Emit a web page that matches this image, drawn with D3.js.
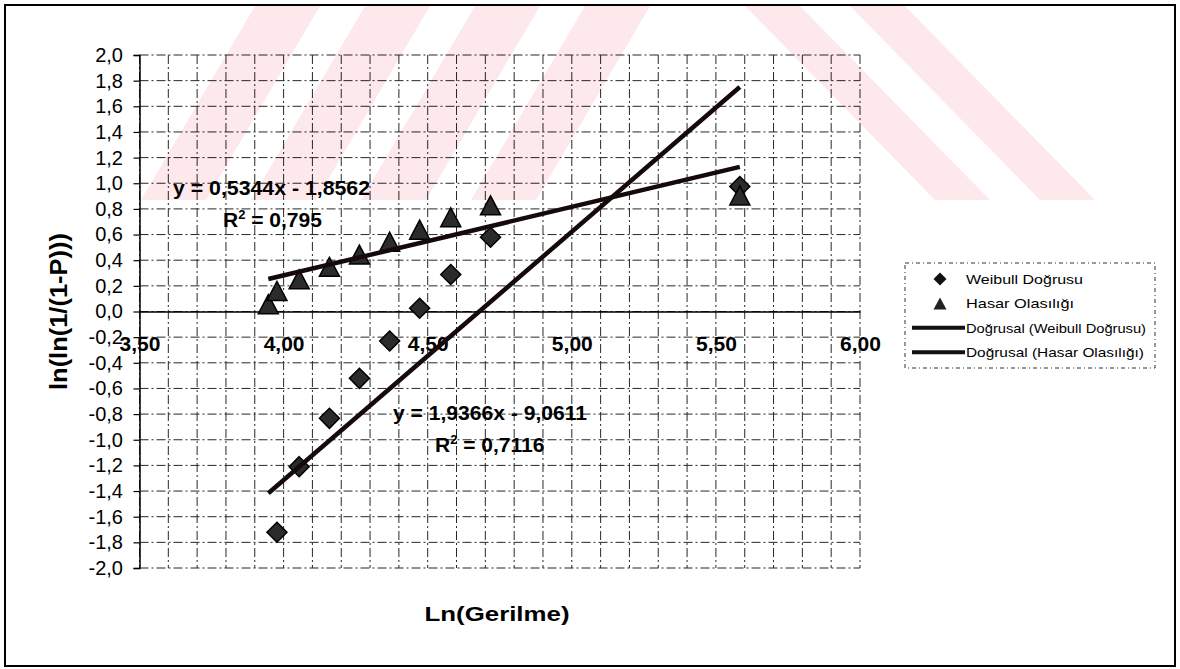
<!DOCTYPE html>
<html><head><meta charset="utf-8">
<script src="https://cdn.jsdelivr.net/npm/d3@7"></script>
<style>
body{margin:0;background:#fff}
svg{display:block}
text{font-family:"Liberation Sans",Arial,Helvetica,sans-serif;fill:#000}
</style>
</head><body>
<svg id="chart" width="1180" height="669"></svg>
<script>
// ---- data ----
const lnStress  = [3.947, 3.977, 4.054, 4.159, 4.263, 4.368, 4.472, 4.580, 4.718, 5.583];
const weibull   = [null, -1.721, -1.210, -0.833, -0.521, -0.230, 0.025, 0.289, 0.579, 0.975]; // first point lies below the axis minimum
const hasar     = [0.057, 0.160, 0.251, 0.349, 0.444, 0.544, 0.638, 0.735, 0.828, 0.905];
const seriesNames = ["Weibull Doğrusu", "Hasar Olasılığı"];
const trendNames  = ["Doğrusal (Weibull Doğrusu)", "Doğrusal (Hasar Olasılığı)"];
const trendSlopes     = [1.9366, 0.5344];
const trendIntercepts = [-9.0611, -1.8562];
const trendEquations  = ["y = 1,9366x - 9,0611", "y = 0,5344x - 1,8562"];
const trendR2         = ["0,7116", "0,795"];
const xTicks = [3.5, 4.0, 4.5, 5.0, 5.5, 6.0];
const yTicks = [-2.0,-1.8,-1.6,-1.4,-1.2,-1.0,-0.8,-0.6,-0.4,-0.2,0.0,0.2,0.4,0.6,0.8,1.0,1.2,1.4,1.6,1.8,2.0];
const xGrid  = [3.5,3.6,3.7,3.8,3.9,4.0,4.1,4.2,4.3,4.4,4.5,4.6,4.7,4.8,4.9,5.0,5.1,5.2,5.3,5.4,5.5,5.6,5.7,5.8,5.9,6.0];
const xTitle = "Ln(Gerilme)";
const yTitle = "ln(ln(1/(1-P)))";

const svg = d3.select("#chart");
const loc = d3.formatLocale({decimal: ",", thousands: ".", grouping: [3], currency: ["", ""], minus: "-"});
const fx = loc.format(".2f"), fy = loc.format(".1f");

// ---- faint watermark (decorative) ----
const wm = svg.append("g");
const pink = "#fde8ec";
const leftBands = [[255, 320], [365, 430], [475, 540], [585, 650]];
const rightBands = [[745, 800], [850, 905]];
leftBands.forEach(([a, b]) => wm.append("polygon").attr("fill", pink)
  .attr("points", `${a},6 ${b},6 ${b-114},200 ${a-114},200`));
rightBands.forEach(([a, b]) => wm.append("polygon").attr("fill", pink)
  .attr("points", `${a},6 ${b},6 ${b+190},200 ${a+190},200`));

// ---- outer frame ----
svg.append("rect").attr("x", 5).attr("y", 5).attr("width", 1170).attr("height", 661)
  .attr("fill", "none").attr("stroke", "#000").attr("stroke-width", 2);

// ---- scales ----
const x = d3.scaleLinear().domain([3.5, 6.0]).range([139.5, 860]);
const y = d3.scaleLinear().domain([-2, 2]).range([568, 55]);

// ---- grid ----
const grid = svg.append("g").attr("stroke", "#111").attr("stroke-width", 1)
  .attr("stroke-dasharray", "9,3,2,3").attr("opacity", 0.9);
grid.selectAll("line.v").data(xGrid).join("line").attr("class", "v")
  .attr("x1", d => x(d)).attr("x2", d => x(d)).attr("y1", y(2)).attr("y2", y(-2));
grid.selectAll("line.h").data(yTicks).join("line").attr("class", "h")
  .attr("x1", x(3.5)).attr("x2", x(6.0)).attr("y1", d => y(d)).attr("y2", d => y(d));

// ---- y axis ----
const yAxis = svg.append("g").attr("transform", `translate(${x(3.5)},0)`)
  .call(d3.axisLeft(y).tickValues(yTicks).tickFormat(fy).tickSize(6).tickPadding(10.5));
yAxis.select(".domain").attr("stroke", "#000").attr("stroke-width", 1.5);
yAxis.selectAll(".tick line").attr("stroke", "#000").attr("stroke-width", 1.2);
yAxis.selectAll("text").attr("font-size", 20).attr("font-family", "Liberation Sans, Arial, sans-serif").attr("fill", "#000");

// ---- x axis at y = 0 ----
const xAxis = svg.append("g").attr("transform", `translate(0,${y(0)})`)
  .call(d3.axisBottom(x).tickValues(xTicks).tickFormat(fx).tickSize(0).tickPadding(24.5));
xAxis.select(".domain").attr("stroke", "#000").attr("stroke-width", 1.6);
xAxis.selectAll("text").attr("font-size", 21).attr("font-weight", "bold")
  .attr("font-family", "Liberation Sans, Arial, sans-serif").attr("fill", "#000");

// ---- markers ----
const diamondPath = "M0,-10L10,0L0,10L-10,0Z";
const trianglePath = "M0,-9.5L10,9.5L-10,9.5Z";
const pts = lnStress.map((v, i) => ({x: v, w: weibull[i], h: hasar[i]}));
svg.append("g").selectAll("path").data(pts.filter(d => d.w !== null)).join("path")
  .attr("d", diamondPath).attr("transform", d => `translate(${x(d.x)},${y(d.w)})`)
  .attr("fill", "#2b2b2b").attr("stroke", "#000").attr("stroke-width", 1.5);
svg.append("g").selectAll("path").data(pts).join("path")
  .attr("d", trianglePath).attr("transform", d => `translate(${x(d.x)},${y(d.h)})`)
  .attr("fill", "#2b2b2b").attr("stroke", "#000").attr("stroke-width", 1.5);

// ---- trendlines ----
const xMin = d3.min(lnStress), xMax = d3.max(lnStress);
trendSlopes.forEach((s, i) => {
  const b = trendIntercepts[i];
  svg.append("line").attr("x1", x(xMin)).attr("y1", y(s * xMin + b))
    .attr("x2", x(xMax)).attr("y2", y(s * xMax + b))
    .attr("stroke", "#150909").attr("stroke-width", 4.5).attr("stroke-linecap", "butt");
});

// ---- equation labels ----
function fitText(sel, w) { return sel.attr("textLength", w).attr("lengthAdjust", "spacingAndGlyphs"); }
const eqPos = [[393, 420, 194, 435, 452, 111], [173, 195, 197, 223, 227, 100]];
trendEquations.forEach((eq, i) => {
  const p = eqPos[i];
  fitText(svg.append("text").attr("x", p[0]).attr("y", p[1]).attr("font-size", 21).attr("font-weight", "bold").text(eq), p[2]);
  const r = svg.append("text").attr("x", p[3]).attr("y", p[4]).attr("font-size", 21).attr("font-weight", "bold");
  r.append("tspan").text("R");
  r.append("tspan").attr("font-size", 13).attr("dy", -8).text("2");
  r.append("tspan").attr("dy", 8).text(" = " + trendR2[i]);
});

// ---- axis titles ----
fitText(svg.append("text").attr("x", 497).attr("y", 621).attr("text-anchor", "middle")
  .attr("font-size", 21).attr("font-weight", "bold").text(xTitle), 145);
fitText(svg.append("text").attr("transform", "translate(67,311.5) rotate(-90)").attr("text-anchor", "middle")
  .attr("font-size", 24).attr("font-weight", "bold").text(yTitle), 157);

// ---- legend ----
const lg = svg.append("g");
lg.append("rect").attr("x", 905).attr("y", 263).attr("width", 250).attr("height", 105)
  .attr("fill", "none").attr("stroke", "#333").attr("stroke-width", 1).attr("stroke-dasharray", "4,3,1,3");
const legendItems = [
  {name: seriesNames[0], kind: "d", w: 117},
  {name: seriesNames[1], kind: "t", w: 108},
  {name: trendNames[0], kind: "l", w: 180},
  {name: trendNames[1], kind: "l", w: 178}
];
legendItems.forEach((it, i) => {
  const cy = 279 + i * 24.4;
  if (it.kind === "d") lg.append("path").attr("d", "M0,-6.5L6.5,0L0,6.5L-6.5,0Z").attr("transform", `translate(940,${cy})`).attr("fill", "#111");
  if (it.kind === "t") lg.append("path").attr("d", "M0,-6L6.5,6L-6.5,6Z").attr("transform", `translate(940,${cy})`).attr("fill", "#222");
  if (it.kind === "l") lg.append("line").attr("x1", 912).attr("x2", 965).attr("y1", cy).attr("y2", cy).attr("stroke", "#111").attr("stroke-width", 4);
  fitText(lg.append("text").attr("x", 966).attr("y", cy + 5).attr("font-size", 13.5).text(it.name), it.w);
});
</script>
</body></html>
